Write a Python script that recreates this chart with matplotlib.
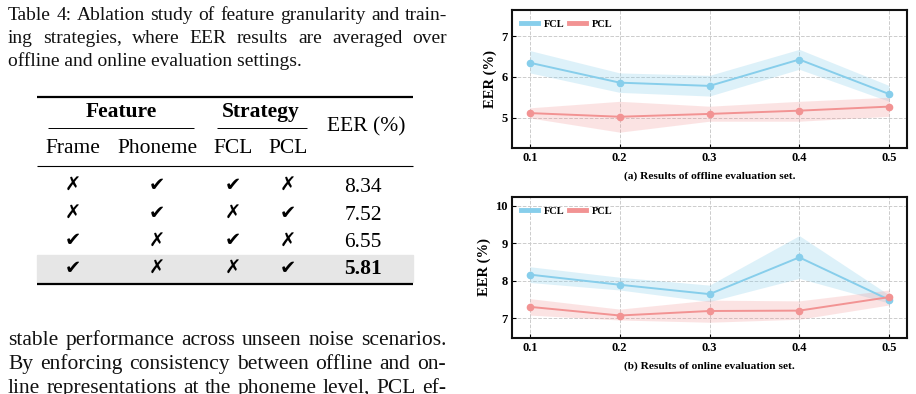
import matplotlib
matplotlib.use("Agg")
import matplotlib.pyplot as plt
import numpy as np

# ---------------- data ----------------
snr = [0.1, 0.2, 0.3, 0.4, 0.5]

off_fcl = [6.35, 5.86, 5.78, 6.43, 5.58]
off_fcl_lo = [6.10, 5.62, 5.53, 6.19, 5.40]
off_fcl_hi = [6.65, 6.10, 6.04, 6.68, 5.79]
off_pcl = [5.11, 5.02, 5.09, 5.17, 5.27]
off_pcl_lo = [4.99, 4.64, 4.91, 4.91, 5.03]
off_pcl_hi = [5.24, 5.40, 5.28, 5.40, 5.50]

on_fcl = [8.16, 7.89, 7.64, 8.62, 7.49]
on_fcl_lo = [7.95, 7.75, 7.44, 8.06, 7.40]
on_fcl_hi = [8.37, 8.09, 7.88, 9.20, 7.62]
on_pcl = [7.30, 7.07, 7.19, 7.20, 7.56]
on_pcl_lo = [7.08, 6.95, 6.89, 6.97, 7.35]
on_pcl_hi = [7.52, 7.24, 7.48, 7.46, 7.75]

caption_lines = [
    "Table 4: Ablation study of feature granularity and train-",
    "ing strategies, where EER results are averaged over",
    "offline and online evaluation settings.",
]
body_lines = [
    "stable performance across unseen noise scenarios.",
    "By enforcing consistency between offline and on-",
    "line representations at the phoneme level, PCL ef-",
]
group_headers = ["Feature", "Strategy"]
col_headers = ["Frame", "Phoneme", "FCL", "PCL"]
eer_header = "EER (%)"
table_marks = [
    [False, True, True, False],
    [False, True, False, True],
    [True, False, True, False],
    [True, False, False, True],
]
table_eer = ["8.34", "7.52", "6.55", "5.81"]

# ---------------- figure ----------------
W, H = 916, 394
fig = plt.figure(figsize=(W / 100, H / 100), dpi=100)
SERIF = "Liberation Serif"
BLUE = "#87CEEB"
RED = "#F29393"

def fx(x):
    return x / W

def fy(y):
    return 1 - y / H

renderer = fig.canvas.get_renderer()

def text_width(s, **kw):
    t = fig.text(0, 0, s, **kw)
    w = t.get_window_extent(renderer=renderer).width
    t.remove()
    return w

def justified(line, x0, x1, ybase, justify=True, **kw):
    words = line.split(" ")
    if not justify or len(words) == 1:
        fig.text(fx(x0), fy(ybase), line, ha="left", va="baseline", **kw)
        return
    widths = [text_width(w, **kw) for w in words]
    gap = (x1 - x0 - sum(widths)) / (len(words) - 1)
    x = x0
    for w, wd in zip(words, widths):
        fig.text(fx(x), fy(ybase), w, ha="left", va="baseline", **kw)
        x += wd + gap

ckw = dict(family=SERIF, fontsize=14, color="#111111")
bkw = dict(family=SERIF, fontsize=15.5, color="#111111")
for i, line in enumerate(caption_lines):
    justified(line, 8, 447, 19.5 + 23.5 * i, justify=(i < 2), **ckw)
for i, line in enumerate(body_lines):
    justified(line, 8, 446, 345 + 24 * i, justify=True, **bkw)

# ---------------- table ----------------
L, R = 37, 413
TFS = 15.5
fig.patches.append(plt.Rectangle((fx(L), fy(282)), fx(R) - fx(L), (282 - 254.5) / H,
                                 transform=fig.transFigure, color="#e6e6e6", zorder=0))

def hline(y, x0, x1, lw):
    fig.add_artist(plt.Line2D([fx(x0), fx(x1)], [fy(y), fy(y)], color="black",
                              lw=lw, transform=fig.transFigure, solid_capstyle="butt"))

hline(96.7, L, R, 1.6)
hline(128.3, 48, 194, 0.7)
hline(128.3, 217, 307, 0.7)
hline(166, L, R, 0.8)
hline(284, L, R, 1.6)

fig.text(fx(121.7), fy(117.3), group_headers[0], ha="center", va="baseline",
         family=SERIF, fontsize=TFS, weight="bold")
fig.text(fx(261), fy(117.3), group_headers[1], ha="center", va="baseline",
         family=SERIF, fontsize=TFS, weight="bold")
fig.text(fx(366), fy(131.7), eer_header, ha="center", va="baseline",
         family=SERIF, fontsize=TFS)
col_x = [73, 157, 233, 288]
for cx, h in zip(col_x, col_headers):
    fig.text(fx(cx), fy(153.3), h, ha="center", va="baseline", family=SERIF, fontsize=TFS)

row_base = [191.7, 219.5, 247.0, 274.5]
for r, (marks, val) in enumerate(zip(table_marks, table_eer)):
    for cx, m in zip(col_x, marks):
        fig.text(fx(cx), fy(row_base[r] - 0.5), "\u2714" if m else "\u2717",
                 ha="center", va="baseline", family="DejaVu Sans",
                 fontsize=14 if m else 14, weight="normal" if m else "bold",
                 color="black")
    fig.text(fx(363), fy(row_base[r]), val, ha="center", va="baseline", family=SERIF,
             fontsize=TFS, weight="bold" if r == 3 else "normal")

# ---------------- charts ----------------
def make_ax(top, bottom):
    return fig.add_axes([fx(512), fy(bottom), fx(907) - fx(512), (bottom - top) / H])

ax1 = make_ax(10, 148)
ax2 = make_ax(197, 338)

def draw(ax, fcl, flo, fhi, pcl, plo, phi, ylim, yticks, xlabel):
    ax.fill_between(snr, flo, fhi, color=BLUE, alpha=0.28, lw=0)
    ax.fill_between(snr, plo, phi, color=RED, alpha=0.25, lw=0)
    ax.plot(snr, fcl, "-o", color=BLUE, lw=1.4, ms=4.5, label="FCL")
    ax.plot(snr, pcl, "-o", color=RED, lw=1.4, ms=4.5, label="PCL")
    ax.set_xlim(0.08, 0.52)
    ax.set_ylim(*ylim)
    ax.set_xticks(snr)
    ax.set_xticklabels([f"{v:.1f}" for v in snr])
    ax.set_yticks(yticks)
    ax.grid(True, ls="--", color="#cccccc", lw=0.7)
    ax.set_axisbelow(True)
    for s in ax.spines.values():
        s.set_linewidth(1.5)
        s.set_color("#111111")
    ax.tick_params(direction="in", length=3, width=0.8, labelsize=9, pad=3)
    for lab in ax.get_xticklabels() + ax.get_yticklabels():
        lab.set_family(SERIF)
        lab.set_weight("bold")
    ax.set_ylabel("EER (%)", family=SERIF, weight="bold", fontsize=10.5, labelpad=3)
    ax.set_xlabel(xlabel, family=SERIF, weight="bold", fontsize=8.2, labelpad=5)
    leg = ax.legend(loc="upper left", ncol=2, frameon=False,
                    prop=dict(family=SERIF, weight="bold", size=7.5),
                    handlelength=1.6, columnspacing=0.4, handletextpad=0.6,
                    borderaxespad=0.5)
    for h in leg.legend_handles:
        h.set_linewidth(3.5)
        h.set_marker("")

draw(ax1, off_fcl, off_fcl_lo, off_fcl_hi, off_pcl, off_pcl_lo, off_pcl_hi,
     (4.25, 7.65), [5, 6, 7], "(a) Results of offline evaluation set.")
draw(ax2, on_fcl, on_fcl_lo, on_fcl_hi, on_pcl, on_pcl_lo, on_pcl_hi,
     (6.47, 10.23), [7, 8, 9, 10], "(b) Results of online evaluation set.")

fig.savefig("out.png", dpi=100)
